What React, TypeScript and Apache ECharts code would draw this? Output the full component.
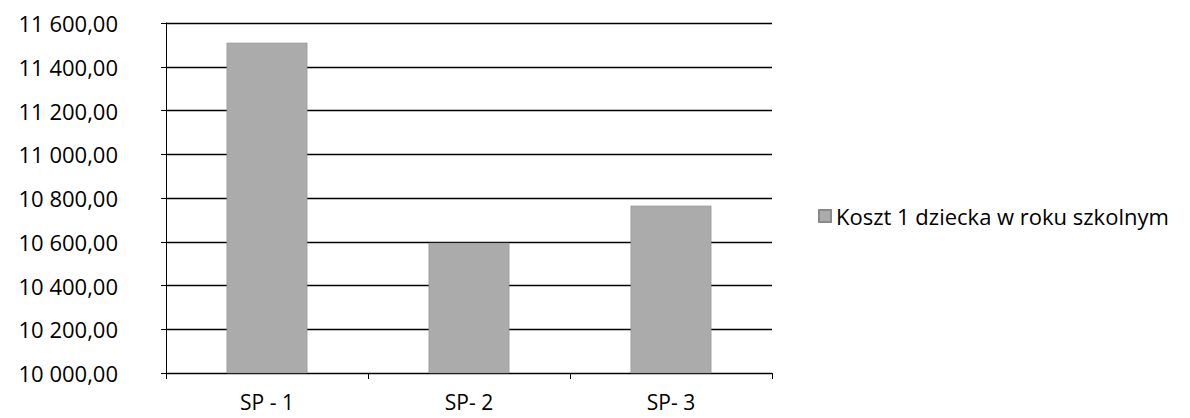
import React, { useEffect, useRef } from "react";
import * as echarts from "echarts";

const categories = ["SP - 1", "SP- 2", "SP- 3"];
const seriesName = "Koszt 1 dziecka w roku szkolnym";
const values = [11510, 10595, 10765];
const yMin = 10000;
const yMax = 11600;
const yStep = 200;

function fmt(v: number): string {
  const [i, d] = v.toFixed(2).split(".");
  const withSpaces = i.replace(/\B(?=(\d{3})+(?!\d))/g, " ");
  return withSpaces + "," + d;
}

export default function App() {
  const ref = useRef<HTMLDivElement>(null);
  useEffect(() => {
    if (!ref.current) return;
    const chart = echarts.init(ref.current, undefined, { renderer: "svg" });
    const font = "'Open Sans', sans-serif";
    chart.setOption({
      animation: false,
      backgroundColor: "#ffffff",
      textStyle: { fontFamily: font, color: "#000" },
      grid: { left: 166, right: 418, top: 23, bottom: 45 },
      legend: {
        left: 813,
        top: 198,
        orient: "vertical",
        itemWidth: 12,
        itemHeight: 12,
        itemGap: 0,
        icon: "rect",
        textStyle: { fontSize: 22, fontFamily: font, color: "#000", lineHeight: 26, padding: [0, 0, 0, 0] },
        data: [seriesName],
      },
      xAxis: {
        type: "category",
        data: categories,
        boundaryGap: true,
        axisLine: { show: true, lineStyle: { color: "#000", width: 1 } },
        axisTick: { show: true, length: 6, inside: false, lineStyle: { color: "#000" } },
        axisLabel: { fontSize: 21, color: "#000", fontFamily: font, margin: 18, lineHeight: 21 },
        splitLine: { show: false },
      },
      yAxis: {
        type: "value",
        min: yMin,
        max: yMax,
        interval: yStep,
        axisLine: { show: true, lineStyle: { color: "#000", width: 1 } },
        axisTick: { show: true, length: 5, lineStyle: { color: "#000" } },
        axisLabel: { fontSize: 22, color: "#000", fontFamily: font, margin: 48, formatter: (v: number) => fmt(v) },
        splitLine: { show: true, lineStyle: { color: "#000", width: 1.3 } },
      },
      series: [
        {
          name: seriesName,
          type: "bar",
          data: values,
          barWidth: "40%",
          itemStyle: { color: "#ababab", borderColor: "#8a8a8a", borderWidth: 0.5 },
        },
      ],
    });
    return () => chart.dispose();
  }, []);
  return (
    <div
      ref={ref}
      style={{ position: "absolute", left: 0, top: 0, width: 1190, height: 418 }}
    />
  );
}
